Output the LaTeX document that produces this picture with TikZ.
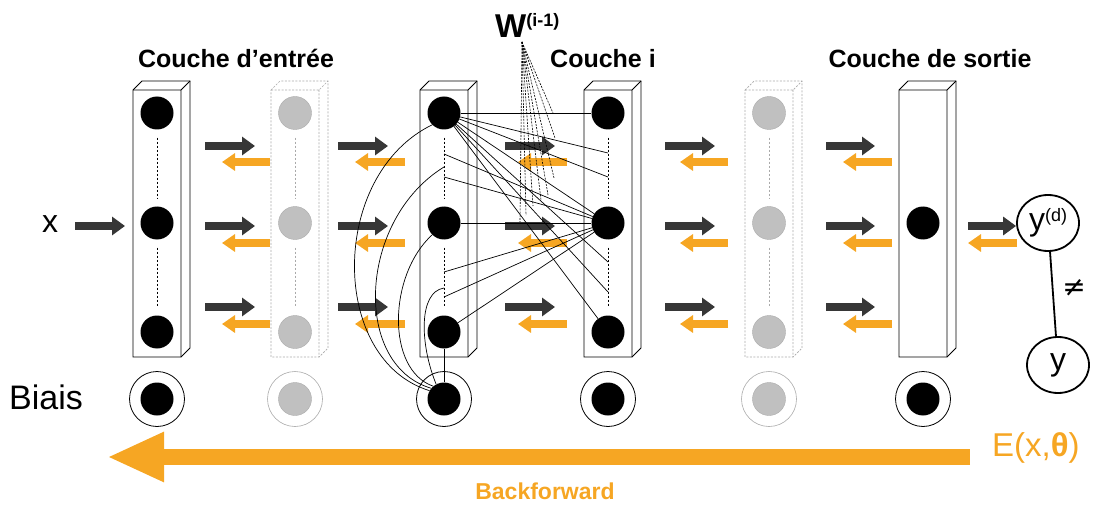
\documentclass[tikz,border=0pt]{standalone}
\usepackage{fontspec}
\setmainfont{Liberation Sans}
\newfontfamily\dejavu{DejaVu Sans}
\usetikzlibrary{arrows.meta,shapes.geometric}
\definecolor{org}{RGB}{246,166,35}
\definecolor{dk}{RGB}{55,55,55}
\definecolor{lg}{RGB}{192,192,192}
\definecolor{lgb}{RGB}{170,170,170}
\tikzset{
 neuron/.style={circle, fill=black, minimum size=33pt, inner sep=0pt},
 gneuron/.style={circle, fill=lg, draw=lgb, line width=0.4pt, minimum size=33pt, inner sep=0pt},
 biasring/.style={circle, draw=black, line width=0.8pt, minimum size=55pt, inner sep=0pt},
 gbiasring/.style={circle, draw=lgb, line width=0.6pt, minimum size=55pt, inner sep=0pt},
 fwd/.style={draw=dk, line width=8pt, -{Triangle[length=13pt,width=18pt]}},
 bwd/.style={draw=org, line width=8pt, -{Triangle[length=13pt,width=17pt]}},
 conn/.style={draw=black, line width=0.7pt},
 wlink/.style={draw=black, line width=0.6pt, dash pattern=on 2pt off 1.2pt},
 vdots/.style={draw=black, line width=0.8pt, dash pattern=on 2.5pt off 1.5pt},
 gvdots/.style={draw=lgb, line width=0.8pt, dash pattern=on 2.5pt off 1.5pt},
 solidbox/.style={draw=black, line width=0.8pt},
 grayboxst/.style={draw=lgb, line width=0.7pt, dash pattern=on 2pt off 1.5pt},
 head/.style={font=\fontsize{25}{25}\selectfont\bfseries, anchor=base, inner sep=0pt},
 outc/.style={ellipse, draw=black, line width=1.8pt, minimum width=62pt, minimum height=56pt, inner sep=0pt},
}
\newcommand{\layerbox}[2]{%
 \filldraw[#2, fill=white] (#1,90) -- (#1+9,81) -- (#1+57,81) -- (#1+57,348) -- (#1+48,357) -- (#1,357) -- cycle;
 \draw[#2] (#1,90) -- (#1+48,90) -- (#1+57,81) (#1+48,90) -- (#1+48,357);
}
\begin{document}
\begin{tikzpicture}[x=1pt,y=-1pt]
\useasboundingbox (0,0) rectangle (1097,505);
% headings
\node[head] (h1) at (236,68) {Couche d’entrée};
\node[head] (h4) at (603,68) {Couche i};
\node[head] (h6) at (930,68) {Couche de sortie};
\node[anchor=base west, inner sep=0pt, font=\fontsize{33}{33}\selectfont\bfseries] (wlab) at (495,38) {W\raisebox{11pt}{\fontsize{18}{18}\selectfont(i-1)}};
% boxes
\layerbox{133}{solidbox}
\layerbox{271}{grayboxst}
\layerbox{420}{solidbox}
\layerbox{584}{solidbox}
\layerbox{745}{grayboxst}
\layerbox{899}{solidbox}
% small arrows
\node[font=\fontsize{32}{32}\selectfont, inner sep=0pt] (xin) at (50,224) {x};
\path (75,226) coordinate (xs) (125,226) coordinate (xe);
\draw[fwd] (xs) -- (xe);
\foreach \g/\ds/\de/\ot/\oe in {1/205/255/222/270, 2/338/388/355/405, 3/505/555/518/567, 4/665/715/680/728, 5/826/875/843/892}{
 \foreach \r/\yd/\yo in {1/146/162, 2/226/243, 3/307/324}{
  \path (\ds,\yd) coordinate (fs-\g-\r) (\de,\yd) coordinate (fe-\g-\r)
        (\oe,\yo) coordinate (bs-\g-\r) (\ot,\yo) coordinate (be-\g-\r);
  \draw[fwd] (fs-\g-\r) -- (fe-\g-\r);
  \draw[bwd] (bs-\g-\r) -- (be-\g-\r);
 }
}
% neurons
\foreach \i/\x in {1/157,3/444,4/608}{
 \node[neuron] (n\i-a) at (\x,113) {};
 \node[neuron] (n\i-b) at (\x,223) {};
 \node[neuron] (n\i-c) at (\x,332) {};
 \draw[vdots] ([yshift=-8pt]n\i-a.south) -- ([yshift=8pt]n\i-b.north);
 \draw[vdots] ([yshift=-8pt]n\i-b.south) -- ([yshift=8pt]n\i-c.north);
 \node[biasring] (r\i) at (\x,399) {};
 \node[neuron] (b\i) at (\x,399) {};
}
\foreach \i/\x in {2/295,5/769}{
 \node[gneuron] (n\i-a) at (\x,113) {};
 \node[gneuron] (n\i-b) at (\x,223) {};
 \node[gneuron] (n\i-c) at (\x,332) {};
 \draw[gvdots] ([yshift=-8pt]n\i-a.south) -- ([yshift=8pt]n\i-b.north);
 \draw[gvdots] ([yshift=-8pt]n\i-b.south) -- ([yshift=8pt]n\i-c.north);
 \node[gbiasring] (r\i) at (\x,399) {};
 \node[gneuron] (b\i) at (\x,399) {};
}
\node[neuron] (n6-b) at (923,223) {};
\node[biasring] (r6) at (923,399) {};
\node[neuron] (b6) at (923,399) {};
% output comparison
\node[outc] (yd) at (1048,223) {\fontsize{32}{32}\selectfont y\raisebox{9pt}{\fontsize{18}{18}\selectfont(d)}};
\node[outc] (yy) at (1058,365) {\fontsize{32}{32}\selectfont y};
\draw[line width=1.8pt] (yd) -- (yy);
\node[font=\fontsize{28}{28}\dejavu, inner sep=0pt] (neq) at (1074,288) {≠};
\path (968,226) coordinate (f6s) (1017,243) coordinate (b6s) (968,243) coordinate (b6e);
\draw[fwd] (f6s) -- ([yshift=-3pt]yd.west);
\draw[bwd] (b6s) -- (b6e);
% connection points on dashed lines
\path (444,154) coordinate (p3a) (444,177) coordinate (p3b) (444,272) coordinate (p3c) (444,297) coordinate (p3d)
      (608,153) coordinate (p4a) (608,177) coordinate (p4b) (608,262) coordinate (p4c) (608,292) coordinate (p4d)
      (444,167) coordinate (q3a) (444,288) coordinate (q3b);
\foreach \t in {n4-a,p4a,p4b,n4-b,p4c,p4d,n4-c}{ \draw[conn] (n3-a) -- (\t); }
\foreach \s in {p3a,p3b,n3-b,p3c,p3d,n3-c}{ \draw[conn] (\s) -- (n4-b); }
% bias links
\draw[conn] (b3) -- (n3-c);
\draw[conn] (b3.150) .. controls (329,360) and (329,175) .. (n3-a.225);
\draw[conn] (b3.140) .. controls (352,365) and (358,220) .. (q3a);
\draw[conn] (b3.130) .. controls (386,370) and (388,275) .. (n3-b.225);
\draw[conn] (b3.118) .. controls (420,345) and (418,292) .. (q3b);
% W dashed fan
\coordinate (wap) at (522,42);
\foreach \ex/\ey in {520/222, 526/215, 533/206, 541/200, 548/195, 554/178, 555/138, 553/113}{
 \draw[wlink] (wap) -- (\ex,\ey);
}
% labels
\node[font=\fontsize{34}{34}\selectfont, anchor=west, inner sep=0pt] (biais) at (9,397) {Biais};
% backforward
\path (970,457) coordinate (bfs) (107,457) coordinate (bfe);
\draw[org, line width=16pt, -{Triangle[length=57pt,width=46pt]}] (bfs) -- (bfe);
\node[text=org, font=\fontsize{33}{33}\selectfont, anchor=west, inner sep=0pt] (err) at (992,448) {E(x,\textbf{θ})};
\node[text=org, font=\fontsize{23}{23}\selectfont\bfseries, inner sep=0pt] (bf) at (545,491) {Backforward};
\end{tikzpicture}
\end{document}
